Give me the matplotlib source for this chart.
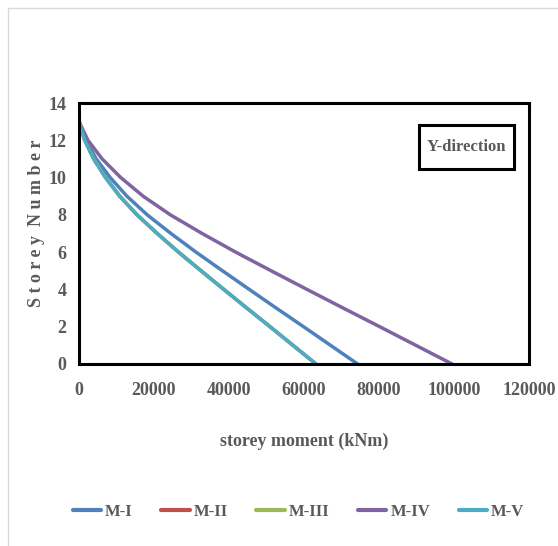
import numpy as np
import matplotlib
matplotlib.use("Agg")
import matplotlib.pyplot as plt
from matplotlib.patches import Rectangle

# storey levels (top = 13, base = 0)
storeys = [0, 1, 2, 3, 4, 5, 6, 7, 8, 9, 10, 11, 12, 13]

# storey moments (kNm)
m_i = [74300, 67090, 59890, 52600, 45400, 38260, 31210, 24520, 18200, 12780, 8320, 4610, 1780, 0]
m_ii = [63200, 57070, 50940, 44750, 38620, 32550, 26540, 20860, 15480, 10870, 7080, 3920, 1520, 0]
m_iii = [63200, 57070, 50940, 44750, 38620, 32550, 26540, 20860, 15480, 10870, 7080, 3920, 1520, 0]
m_iv = [99500, 89850, 80200, 70450, 60800, 51240, 41790, 32840, 24380, 17110, 11140, 6170, 2390, 0]
m_v = [63200, 57070, 50940, 44750, 38620, 32550, 26540, 20860, 15480, 10870, 7080, 3920, 1520, 0]

series = [("M-I", m_i, "#4F81BD"),
          ("M-II", m_ii, "#C0504D"),
          ("M-III", m_iii, "#9BBB59"),
          ("M-IV", m_iv, "#8064A2"),
          ("M-V", m_v, "#4BACC6")]

x_ticks = [0, 20000, 40000, 60000, 80000, 100000, 120000]
y_ticks = [0, 2, 4, 6, 8, 10, 12, 14]

text_color = "#595959"
font = "Liberation Serif"

fig = plt.figure(figsize=(5.58, 5.46), dpi=100)

# light outer chart border
fig.patches.append(Rectangle((8 / 558, -0.01), 1.2, 1 - 8 / 546 + 0.01,
                             transform=fig.transFigure, fill=False,
                             edgecolor="#D9D9D9", linewidth=1))

ax = fig.add_axes([79 / 558, 1 - 364 / 546, 450 / 558, 261 / 546])

for name, vals, color in series:
    ax.plot(vals, storeys, color=color, linewidth=2.5, label=name,
            solid_capstyle="round", solid_joinstyle="round")

ax.set_xlim(0, 120000)
ax.set_ylim(0, 14)
ax.set_xticks(x_ticks)
ax.set_yticks(y_ticks)
ax.tick_params(length=0, labelsize=13, labelcolor=text_color)
ax.tick_params(axis="x", pad=13)
ax.tick_params(axis="y", pad=9)
for lab in ax.get_xticklabels() + ax.get_yticklabels():
    lab.set_fontfamily(font)
    lab.set_fontweight("bold")

for sp in ax.spines.values():
    sp.set_linewidth(2.2)
    sp.set_color("black")

ax.set_xlabel("storey moment (kNm)", fontsize=13, fontfamily=font,
              fontweight="bold", color=text_color, labelpad=24)
ax.set_ylabel("S t o r e y  N u m b e r", fontsize=13, fontfamily=font,
              fontweight="bold", color=text_color)
ax.yaxis.set_label_coords(-0.075, 0.54)

# boxed direction tag
ax.add_patch(Rectangle((0.755, 0.747), 0.212, 0.169, transform=ax.transAxes,
                       facecolor="white", edgecolor="black", linewidth=2.2,
                       zorder=5))
ax.text(0.861, 0.831, "Y-direction", transform=ax.transAxes,
        ha="center", va="center", fontsize=12, fontfamily=font,
        fontweight="bold", color=text_color, zorder=6)

leg = fig.legend(loc="center", bbox_to_anchor=(0.535, 1 - 512 / 546), ncol=5,
                 frameon=False, handlelength=1.7, handletextpad=0.25,
                 columnspacing=1.7,
                 prop={"family": font, "weight": "bold", "size": 12})
for t in leg.get_texts():
    t.set_color(text_color)
for h in leg.get_lines():
    h.set_linewidth(3)

fig.savefig("out.png", dpi=100)
